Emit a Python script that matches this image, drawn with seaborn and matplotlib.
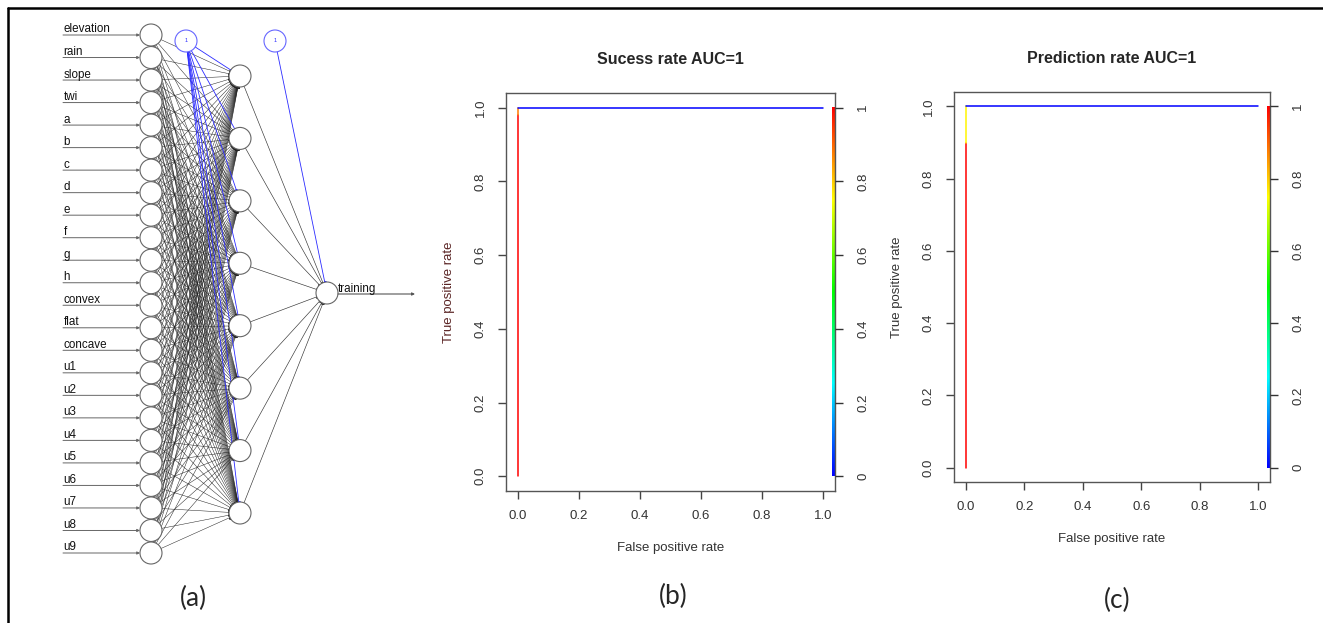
import numpy as np
import pandas as pd
import seaborn as sns
import matplotlib.pyplot as plt
from matplotlib.colors import hsv_to_rgb
from matplotlib.lines import Line2D
from matplotlib.patches import Circle

# network structure
input_labels = ['elevation', 'rain', 'slope', 'twi', 'a', 'b', 'c', 'd', 'e', 'f',
                'g', 'h', 'convex', 'flat', 'concave', 'u1', 'u2', 'u3', 'u4',
                'u5', 'u6', 'u7', 'u8', 'u9']
n_hidden = 8
output_label = 'training'

# ROC curves (points) and cutoff value for each segment
train_fpr = [0.0, 0.0, 0.0, 1.0]
train_tpr = [0.0, 0.98, 1.0, 1.0]
train_cut = [1.0, 0.88, 0.0]
test_fpr = [0.0, 0.0, 0.0, 1.0]
test_tpr = [0.0, 0.9, 1.0, 1.0]
test_cut = [1.0, 0.76, 0.0]

ticks = [0.0, 0.2, 0.4, 0.6, 0.8, 1.0]
tick_labels = ['0.0', '0.2', '0.4', '0.6', '0.8', '1.0']
cbar_labels = ['0', '0.2', '0.4', '0.6', '0.8', '1']

sns.set_style('white')
plt.rcParams['font.family'] = ['Liberation Sans', 'DejaVu Sans']

W, H = 1323, 623
fig = plt.figure(figsize=(W / 100, H / 100), dpi=100)


def rainbow(v):
    # R-like rainbow: red at 1, blue at 0
    return hsv_to_rgb([(1 - v) * 2 / 3, 1, 1])


# ---------------- (a) neural network ----------------
net = fig.add_axes([0, 0, 430 / W, 1])
net.set_xlim(0, 430)
net.set_ylim(H, 0)
net.axis('off')

x_in, x_hid, x_out = 151, 240, 327
y_in = np.linspace(35, 553, len(input_labels))
y_hid = np.linspace(76, 513, n_hidden)
y_out = 293
bias_nodes = [(186, 41), (275, 41)]
r = 11


def edge(p, q, color, lw=0.5):
    p, q = np.array(p, float), np.array(q, float)
    d = (q - p) / np.linalg.norm(q - p)
    a, b = p + d * r, q - d * r
    net.plot([a[0], b[0]], [a[1], b[1]], color=color, lw=lw, zorder=1)
    net.plot([b[0]], [b[1]], marker='o', ms=1.2, color=color, zorder=1)


for yi in y_in:
    for yh in y_hid:
        edge((x_in, yi), (x_hid, yh), '#222222', 0.35)
for yh in y_hid:
    edge(bias_nodes[0], (x_hid, yh), '#2b2bff', 0.6)
    edge((x_hid, yh), (x_out, y_out), '#333333', 0.45)
edge(bias_nodes[1], (x_out, y_out), '#2b2bff', 0.6)

for lab, yi in zip(input_labels, y_in):
    net.annotate('', xy=(x_in - r, yi), xytext=(63, yi),
                 arrowprops=dict(arrowstyle='-|>', color='#666666', lw=0.7,
                                 mutation_scale=4, shrinkA=0, shrinkB=0))
    net.text(63.5, yi - 2.5, lab, fontsize=8.4, ha='left', va='baseline', color='#111111')
    net.add_patch(Circle((x_in, yi), r, facecolor='white', edgecolor='#666666', lw=0.8, zorder=3))

for yh in y_hid:
    net.add_patch(Circle((x_hid, yh), r, facecolor='white', edgecolor='#666666', lw=0.8, zorder=3))
for bx, by in bias_nodes:
    net.add_patch(Circle((bx, by), r, facecolor='white', edgecolor='#6666ff', lw=0.8, zorder=3))
    net.text(bx, by, '1', fontsize=4, color='#2b2bff', ha='center', va='center', zorder=4)

net.add_patch(Circle((x_out, y_out), r, facecolor='white', edgecolor='#666666', lw=0.8, zorder=3))
net.annotate('', xy=(415, y_out + 1), xytext=(x_out + r, y_out + 1),
             arrowprops=dict(arrowstyle='-|>', color='#555555', lw=0.8,
                             mutation_scale=4, shrinkA=0, shrinkB=0))
net.text(338, y_out - 1, output_label, fontsize=8.4, ha='left', va='baseline', color='#111111')


# ---------------- (b), (c) ROC curves ----------------
def roc_panel(rect, fpr, tpr, cut, title, ylab_color):
    ax = fig.add_axes(rect)
    segs = []
    for i, c in enumerate(cut):
        segs.append(pd.DataFrame({'fpr': fpr[i:i + 2], 'tpr': tpr[i:i + 2], 'seg': i}))
    df = pd.concat(segs)
    pal = {i: rainbow(c) for i, c in enumerate(cut)}
    sns.lineplot(data=df, x='fpr', y='tpr', hue='seg', palette=pal, ax=ax,
                 legend=False, sort=False, estimator=None, lw=1.1)

    grad = np.linspace(0, 1, 256)
    cols = np.array([rainbow(v) for v in grad])[:, None, :]
    ax.imshow(cols, extent=[1.029, 1.039, 0, 1], origin='lower', aspect='auto', zorder=2)

    ax.set_xlim(-0.04, 1.04)
    ax.set_ylim(-0.04, 1.04)
    ax.set_xticks(ticks)
    ax.set_xticklabels(tick_labels)
    ax.set_yticks(ticks)
    ax.set_yticklabels(tick_labels, rotation=90, va='center')
    ax.tick_params(axis='both', direction='out', length=6, width=1, colors='#444444',
                   labelcolor='#333333', labelsize=9.5)
    ax.tick_params(axis='x', pad=8, bottom=True)
    ax.tick_params(axis='y', pad=8, left=True)
    for s in ax.spines.values():
        s.set_color('#555555')
        s.set_linewidth(1)
    ax.set_xlabel('False positive rate', fontsize=9.5, color='#333333', labelpad=14)
    ax.set_ylabel('True positive rate', fontsize=9.5, color=ylab_color, labelpad=14)
    ax.set_title(title, fontsize=11.5, fontweight='bold', pad=21)

    ax2 = ax.twinx()
    ax2.set_ylim(-0.04, 1.04)
    ax2.set_yticks(ticks)
    ax2.set_yticklabels(cbar_labels, rotation=90, va='center')
    ax2.tick_params(axis='y', direction='out', length=6, width=1, colors='#333333',
                    labelsize=9.5, pad=10, right=True)
    for s in ax2.spines.values():
        s.set_visible(False)
    return ax


roc_panel([506 / W, 1 - 491 / H, 329 / W, 398 / H], train_fpr, train_tpr, train_cut,
          'Sucess rate AUC=1', '#5a2424')
roc_panel([954 / W, 1 - 482 / H, 316 / W, 390 / H], test_fpr, test_tpr, test_cut,
          'Prediction rate AUC=1', '#333333')

# captions
for txt, x, y in [('(a)', 193, 598), ('(b)', 673, 596), ('(c)', 1117, 600)]:
    fig.text(x / W, 1 - y / H, txt, fontsize=19, ha='center', va='center',
             family=['Lato', 'DejaVu Sans'])

# frame lines
fig.add_artist(Line2D([8 / W, 1], [1 - 8 / H, 1 - 8 / H], color='black', lw=1.8))
fig.add_artist(Line2D([8 / W, 8 / W], [0, 1 - 8 / H], color='black', lw=1.8))

fig.savefig('out.png', dpi=100)
